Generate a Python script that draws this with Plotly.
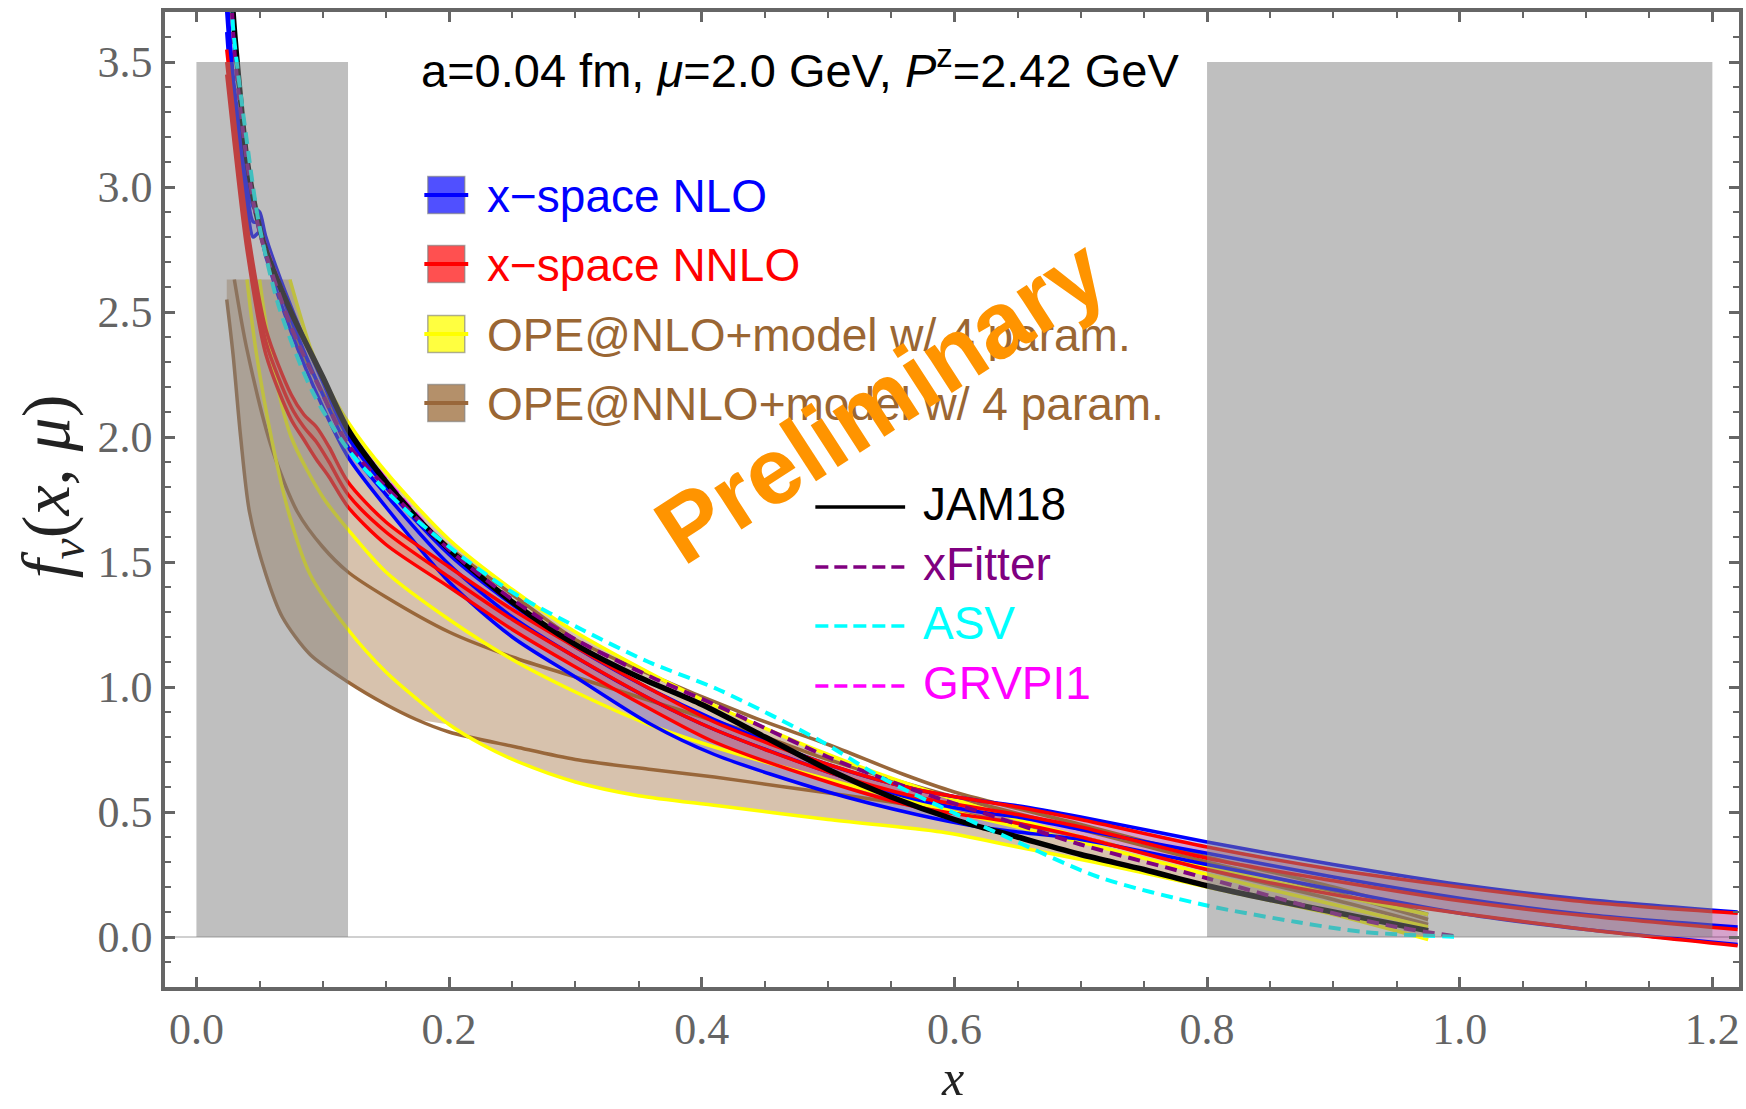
import plotly.graph_objects as go

# ---------------- data ----------------
jam_x = [0.027, 0.029, 0.035, 0.04, 0.053, 0.074, 0.10, 0.12, 0.147, 0.174, 0.20, 0.25, 0.30, 0.35, 0.40, 0.45, 0.50, 0.55, 0.60, 0.65, 0.70, 0.75, 0.80, 0.85, 0.90, 0.95, 0.975]
jam_y = [3.95, 3.70, 3.35, 3.11, 2.78, 2.51, 2.24, 2.03, 1.84, 1.68, 1.55, 1.34, 1.17, 1.04, 0.93, 0.80, 0.67, 0.56, 0.47, 0.40, 0.33, 0.27, 0.205, 0.15, 0.10, 0.05, 0.025]

xf_x = [0.027, 0.03, 0.04, 0.05, 0.075, 0.10, 0.12, 0.15, 0.20, 0.25, 0.30, 0.36, 0.41, 0.50, 0.57, 0.635, 0.70, 0.80, 0.90, 0.95, 1.0]
xf_y = [3.85, 3.55, 3.10, 2.82, 2.44, 2.17, 1.97, 1.80, 1.55, 1.35, 1.19, 1.04, 0.93, 0.72, 0.585, 0.476, 0.37, 0.235, 0.095, 0.04, 0.0]

asv_x = [0.027, 0.029, 0.04, 0.05, 0.066, 0.092, 0.12, 0.147, 0.174, 0.213, 0.253, 0.305, 0.358, 0.413, 0.492, 0.545, 0.598, 0.65, 0.714, 0.798, 0.871, 0.924, 1.0]
asv_y = [3.9, 3.64, 3.18, 2.84, 2.51, 2.18, 1.95, 1.80, 1.67, 1.51, 1.37, 1.23, 1.10, 0.99, 0.79, 0.63, 0.50, 0.38, 0.24, 0.128, 0.06, 0.02, 0.0]

grv_x = [0.027, 0.03, 0.04, 0.05, 0.075, 0.10, 0.12, 0.15, 0.20, 0.25, 0.30, 0.35, 0.40, 0.45, 0.50, 0.55, 0.60, 0.65, 0.70, 0.75, 0.80, 0.85, 0.90, 0.95, 0.975]
grv_y = [3.95, 3.62, 3.11, 2.84, 2.50, 2.24, 2.03, 1.83, 1.55, 1.34, 1.17, 1.04, 0.93, 0.80, 0.67, 0.56, 0.47, 0.40, 0.33, 0.27, 0.205, 0.15, 0.10, 0.05, 0.025]

nlo_x  = [0.024, 0.03, 0.04, 0.045, 0.05, 0.055, 0.075, 0.10, 0.12, 0.15, 0.20, 0.25, 0.30, 0.36, 0.41, 0.50, 0.57, 0.62, 0.65, 0.70, 0.80, 0.90, 1.00, 1.10, 1.22]
nlo_up = [3.78, 3.40, 3.05, 2.92, 2.90, 2.80, 2.52, 2.22, 2.00, 1.80, 1.53, 1.33, 1.16, 0.99, 0.87, 0.69, 0.59, 0.545, 0.525, 0.48, 0.38, 0.29, 0.21, 0.15, 0.10]
nlo_c  = [3.70, 3.33, 2.98, 2.86, 2.86, 2.76, 2.47, 2.17, 1.96, 1.77, 1.49, 1.28, 1.12, 0.95, 0.83, 0.66, 0.55, 0.50, 0.48, 0.43, 0.335, 0.24, 0.155, 0.09, 0.04]
nlo_lo = [3.62, 3.26, 2.92, 2.80, 2.82, 2.72, 2.42, 2.12, 1.92, 1.72, 1.42, 1.20, 1.04, 0.85, 0.73, 0.58, 0.49, 0.44, 0.42, 0.39, 0.29, 0.19, 0.095, 0.03, -0.03]

nnlo_x  = [0.024, 0.03, 0.04, 0.055, 0.075, 0.085, 0.095, 0.105, 0.12, 0.15, 0.20, 0.25, 0.30, 0.36, 0.41, 0.50, 0.57, 0.65, 0.70, 0.80, 0.90, 1.00, 1.10, 1.22]
nnlo_up = [3.55, 3.27, 2.85, 2.43, 2.17, 2.09, 2.04, 1.96, 1.82, 1.66, 1.48, 1.31, 1.16, 0.99, 0.86, 0.69, 0.59, 0.52, 0.47, 0.36, 0.27, 0.20, 0.14, 0.095]
nnlo_c  = [3.50, 3.22, 2.80, 2.38, 2.12, 2.04, 1.98, 1.90, 1.77, 1.62, 1.44, 1.27, 1.12, 0.95, 0.83, 0.66, 0.56, 0.49, 0.44, 0.315, 0.225, 0.145, 0.085, 0.03]
nnlo_lo = [3.45, 3.17, 2.75, 2.33, 2.07, 1.99, 1.91, 1.84, 1.72, 1.57, 1.40, 1.23, 1.08, 0.91, 0.78, 0.62, 0.52, 0.455, 0.40, 0.27, 0.17, 0.095, 0.03, -0.035]

ope_cap = 2.63
yu_x = [0.074, 0.09, 0.10, 0.12, 0.15, 0.20, 0.25, 0.30, 0.40, 0.50, 0.60, 0.70, 0.80, 0.90, 0.975]
yu_y = [2.63, 2.36, 2.24, 2.06, 1.86, 1.59, 1.39, 1.22, 0.95, 0.73, 0.55, 0.40, 0.28, 0.17, 0.09]
yc_x = [0.05, 0.06, 0.075, 0.10, 0.12, 0.15, 0.20, 0.25, 0.30, 0.358, 0.41, 0.50, 0.60, 0.70, 0.80, 0.90, 0.975]
yc_y = [2.63, 2.30, 2.00, 1.76, 1.63, 1.46, 1.27, 1.11, 0.98, 0.85, 0.76, 0.63, 0.50, 0.38, 0.25, 0.13, 0.04]
yl_x = [0.040, 0.047, 0.060, 0.074, 0.09, 0.12, 0.15, 0.175, 0.20, 0.226, 0.255, 0.30, 0.35, 0.413, 0.50, 0.59, 0.65, 0.71, 0.80, 0.90, 0.975]
yl_y = [2.63, 2.35, 1.98, 1.68, 1.45, 1.23, 1.06, 0.95, 0.85, 0.77, 0.70, 0.62, 0.565, 0.525, 0.47, 0.42, 0.36, 0.30, 0.20, 0.09, -0.01]

bu_x = [0.065, 0.08, 0.10, 0.12, 0.15, 0.20, 0.25, 0.30, 0.35, 0.44, 0.50, 0.56, 0.60, 0.70, 0.80, 0.90, 0.975]
bu_y = [2.63, 2.38, 2.18, 2.00, 1.80, 1.56, 1.37, 1.19, 1.07, 0.88, 0.77, 0.65, 0.58, 0.45, 0.32, 0.20, 0.09]
bc_x = [0.030, 0.04, 0.06, 0.08, 0.10, 0.12, 0.15, 0.20, 0.25, 0.30, 0.35, 0.40, 0.45, 0.50, 0.60, 0.70, 0.80, 0.90, 0.975]
bc_y = [2.63, 2.35, 1.95, 1.70, 1.56, 1.46, 1.36, 1.22, 1.12, 1.04, 0.96, 0.88, 0.80, 0.71, 0.56, 0.43, 0.30, 0.18, 0.07]
bl_x = [0.024, 0.029, 0.035, 0.042, 0.055, 0.068, 0.09, 0.12, 0.15, 0.174, 0.20, 0.253, 0.30, 0.36, 0.41, 0.466, 0.53, 0.60, 0.70, 0.80, 0.90, 0.975]
bl_y = [2.55, 2.33, 2.00, 1.70, 1.45, 1.28, 1.13, 1.02, 0.93, 0.87, 0.82, 0.76, 0.71, 0.67, 0.64, 0.60, 0.555, 0.50, 0.40, 0.27, 0.15, 0.05]

gray_regions = [(0.0, 0.12), (0.8, 1.2)]
gray_top = 3.5

legend1_labels = ["x−space NLO", "x−space NNLO", "OPE@NLO+model w/ 4 param.", "OPE@NNLO+model w/ 4 param."]
legend2_labels = ["JAM18", "xFitter", "ASV", "GRVPI1"]
title_text = "a=0.04 fm, <i>μ</i>=2.0 GeV, <i>P</i><sup>z</sup>=2.42 GeV"

# ---------------- styling ----------------
BLUE = "#0000ff"
RED = "#ff0000"
YEL = "#ffff00"
BRN = "#99673a"
TXT_BRN = "#9a6633"
FRAME = "#666666"

W, H = 1746, 1109
L, R, T, B = 165, 3, 12, 122
PW, PH = W - L - R, H - T - B


def px(x):
    return (x - L) / PW


def py(y):
    return 1 - (y - T) / PH


fig = go.Figure()

# OPE envelope fill (single polygon)
split = 0.2
env_x = [bl_x[0]] + yu_x + [x for x in reversed(yl_x) if x >= split] + [x for x in reversed(bl_x) if x < split]
env_y = [ope_cap] + yu_y + [y for x, y in zip(reversed(yl_x), reversed(yl_y)) if x >= split] + \
        [y for x, y in zip(reversed(bl_x), reversed(bl_y)) if x < split]
fig.add_trace(go.Scatter(x=env_x, y=env_y, mode="lines", fill="toself",
                         fillcolor="rgba(160,110,60,0.42)", line=dict(width=0),
                         hoverinfo="skip"))


def band(xs, lo, up, fillc):
    fig.add_trace(go.Scatter(x=xs, y=lo, mode="lines", line=dict(width=0, shape="spline"),
                             hoverinfo="skip"))
    fig.add_trace(go.Scatter(x=xs, y=up, mode="lines", line=dict(width=0, shape="spline"),
                             fill="tonexty", fillcolor=fillc, hoverinfo="skip"))


band(nlo_x, nlo_lo, nlo_up, "rgba(0,0,255,0.2)")
band(nnlo_x, nnlo_lo, nnlo_up, "rgba(255,0,0,0.2)")


def line(xs, ys, color, width, dash=None):
    fig.add_trace(go.Scatter(x=xs, y=ys, mode="lines",
                             line=dict(color=color, width=width, shape="spline",
                                       smoothing=0.8, dash=dash),
                             hoverinfo="skip"))


# OPE lines
for xs, ys in [(bl_x, bl_y), (bc_x, bc_y), (bu_x, bu_y)]:
    line(xs, ys, BRN, 3.5)
for xs, ys in [(yl_x, yl_y), (yc_x, yc_y), (yu_x, yu_y)]:
    line(xs, ys, YEL, 3.5)

# x-space lines
for ys in [nlo_lo, nlo_c, nlo_up]:
    line(nlo_x, ys, BLUE, 3.5)
for ys in [nnlo_lo, nnlo_c, nnlo_up]:
    line(nnlo_x, ys, RED, 3.5)

# global fits
line(grv_x, grv_y, "#ff00ff", 4, "12px,7px")
line(jam_x, jam_y, "#000000", 5.5)
line(xf_x, xf_y, "#800080", 4, "12px,7px")
line(asv_x, asv_y, "#00ffff", 4, "12px,7px")

shapes = []
for x0, x1 in gray_regions:
    shapes.append(dict(type="rect", xref="x", yref="y", x0=x0, x1=x1, y0=0, y1=gray_top,
                       fillcolor="rgba(128,128,128,0.5)", line=dict(width=0), layer="above"))

annotations = []
# legend 1 (band swatches)
rows1 = [195, 264, 334, 403]
sw_fill = ["rgba(80,80,255,1)", "rgba(255,80,80,1)", "rgba(255,255,64,1)", "rgba(180,144,106,1)"]
sw_line = [BLUE, RED, YEL, BRN]
txt1 = [BLUE, RED, TXT_BRN, TXT_BRN]
for yc, f, lc, tc, lab in zip(rows1, sw_fill, sw_line, txt1, legend1_labels):
    shapes.append(dict(type="rect", xref="paper", yref="paper", x0=px(428.5), x1=px(465.5),
                       y0=py(yc + 18.5), y1=py(yc - 18.5), fillcolor=f,
                       line=dict(color="rgba(120,120,120,0.6)", width=1.5), layer="above"))
    shapes.append(dict(type="line", xref="paper", yref="paper", x0=px(425), x1=px(469),
                       y0=py(yc), y1=py(yc), line=dict(color=lc, width=4), layer="above"))
    annotations.append(dict(xref="paper", yref="paper", x=px(486), y=py(yc + 1), text=lab,
                            showarrow=False, xanchor="left", yanchor="middle",
                            font=dict(family="Liberation Sans, Arial", size=46, color=tc)))

# legend 2 (line styles)
rows2 = [507, 567, 626, 686]
l2_col = ["#000000", "#800080", "#00ffff", "#ff00ff"]
l2_dash = [None, "13px,6px", "13px,6px", "13px,6px"]
for yc, c, d, lab in zip(rows2, l2_col, l2_dash, legend2_labels):
    shapes.append(dict(type="line", xref="paper", yref="paper", x0=px(817), x1=px(907),
                       y0=py(yc), y1=py(yc), line=dict(color=c, width=3.5, dash=d), layer="above"))
    annotations.append(dict(xref="paper", yref="paper", x=px(923), y=py(yc - 3), text=lab,
                            showarrow=False, xanchor="left", yanchor="middle",
                            font=dict(family="Liberation Sans, Arial", size=46, color=c)))

# title
annotations.append(dict(xref="paper", yref="paper", x=px(802), y=py(67), text=title_text,
                        showarrow=False, xanchor="center", yanchor="middle",
                        font=dict(family="Liberation Sans, Arial", size=47, color="black")))
# watermark
annotations.append(dict(xref="paper", yref="paper", x=px(882), y=py(400), text="<b>Preliminary</b>",
                        showarrow=False, xanchor="center", yanchor="middle", textangle=-33,
                        font=dict(family="Liberation Sans, Arial", size=94, color="#ff9400")))
# axis titles
annotations.append(dict(xref="paper", yref="paper", x=px(50), y=py(486),
                        text="<i>f</i><sub><i>v</i></sub>(<i>x</i>, <i>μ</i>)",
                        showarrow=False, xanchor="center", yanchor="middle", textangle=-90,
                        font=dict(family="Liberation Serif, Times New Roman", size=68, color="#222222")))
annotations.append(dict(xref="paper", yref="paper", x=px(954), y=py(1108), text="<i>x</i>",
                        showarrow=False, xanchor="center", yanchor="bottom",
                        font=dict(family="Liberation Serif, Times New Roman", size=50, color="#222222")))

x0r = -(196.5 - L) / 1266.5
x1r = x0r + PW / 1266.5

axis_common = dict(showline=True, linewidth=3.5, linecolor=FRAME, mirror="allticks",
                   ticks="inside", ticklen=10, tickwidth=2.5, tickcolor=FRAME,
                   showgrid=False, tickformat=".1f",
                   tickfont=dict(family="Liberation Serif, Times New Roman", size=44, color="#646464"))

fig.update_layout(
    width=W, height=H,
    margin=dict(l=L, r=R, t=T, b=B),
    paper_bgcolor="white", plot_bgcolor="white",
    showlegend=False,
    shapes=shapes, annotations=annotations,
    xaxis=dict(range=[x0r, x1r], dtick=0.2, tick0=0, zeroline=False,
               minor=dict(ticks="inside", ticklen=6, tickwidth=2, dtick=0.05, tickcolor=FRAME),
               **axis_common),
    yaxis=dict(range=[-0.2, 3.7], dtick=0.5, tick0=0, zeroline=True,
               zerolinecolor="#d0d0d0", zerolinewidth=1.5,
               minor=dict(ticks="inside", ticklen=6, tickwidth=2, dtick=0.1, tickcolor=FRAME),
               **axis_common),
)

fig.write_html("out.html")
